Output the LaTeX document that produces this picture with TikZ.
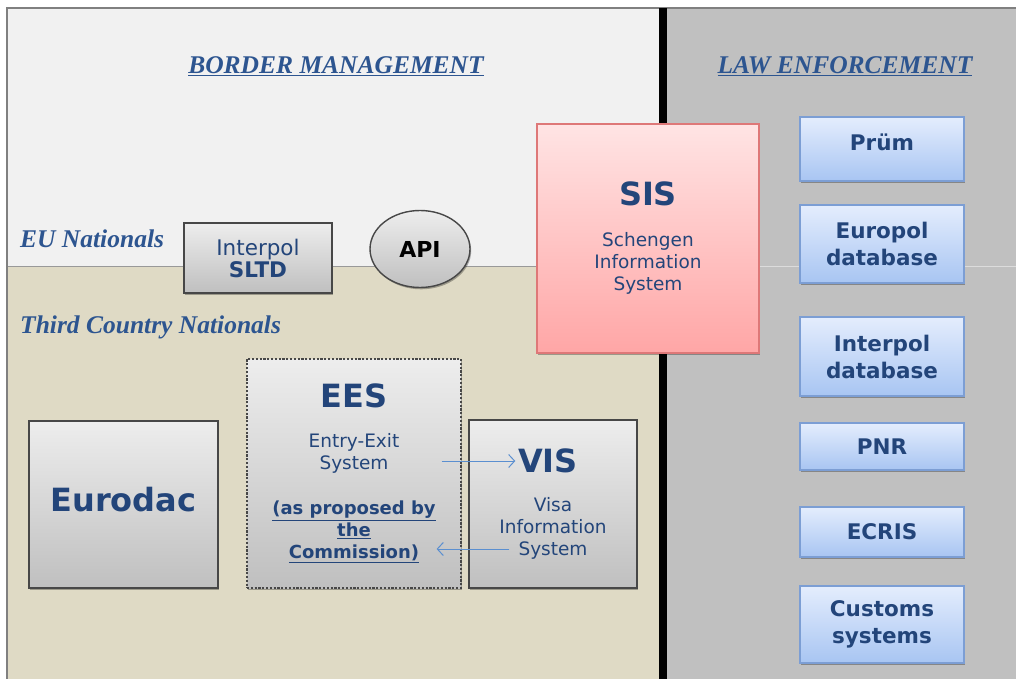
\documentclass[tikz,border=0pt]{standalone}
\usepackage{fontspec}
\usetikzlibrary{shapes.geometric,shadows,arrows.meta,calc}
\newfontfamily\boxfont{DejaVu Sans}
\newfontfamily\headfont{Liberation Serif}
\definecolor{txtblue}{HTML}{23457A}
\definecolor{headblue}{HTML}{2D5590}
\definecolor{arrblue}{HTML}{5B8FD0}
\definecolor{bmgray}{HTML}{F1F1F1}
\definecolor{tcntan}{HTML}{DFDAC5}
\definecolor{legray}{HTML}{C0C0C0}
\definecolor{blueedge}{HTML}{7C9ED4}
\definecolor{bluetop}{HTML}{E4EDFD}
\definecolor{bluebot}{HTML}{A8C5F2}
\definecolor{pinkedge}{HTML}{DE7878}
\definecolor{pinktop}{HTML}{FFE4E4}
\definecolor{pinkbot}{HTML}{FFA6A6}
\newcommand\titlesz{\fontsize{32}{36}\selectfont\bfseries}
\newcommand\smallsz{\fontsize{18.5}{22}\selectfont}
\newcommand\notesz{\fontsize{18}{22}\selectfont\bfseries}
\tikzset{
  shade/.style={drop shadow={shadow xshift=1.2pt,shadow yshift=-1.8pt,opacity=0.3,fill=black}},
  graybox/.style={shade,rectangle,draw=black!72,line width=1.4pt,top color=black!7,bottom color=black!25,
    inner sep=0pt,align=center,text=txtblue,font=\boxfont\smallsz},
  bluebox/.style={shade,rectangle,draw=blueedge,line width=1.2pt,
    top color=bluetop,bottom color=bluebot,
    inner sep=0pt,align=center,text=txtblue,font=\boxfont\fontsize{21.5}{27}\selectfont\bfseries,
    minimum width=164pt},
  pinkbox/.style={shade,rectangle,draw=pinkedge,line width=1.2pt,
    top color=pinktop,bottom color=pinkbot,
    inner sep=0pt,align=center,text=txtblue,font=\boxfont\smallsz},
  heading/.style={text=headblue,font=\headfont\fontsize{25.5}{28}\selectfont\bfseries\itshape,inner sep=0pt},
  flow/.style={draw=arrblue,line width=1pt,-{Straight Barb[length=6pt,width=13pt,line width=1pt]}}
}
\begin{document}
\begin{tikzpicture}[x=1pt,y=-1pt]
\useasboundingbox (0,0) rectangle (1016,679);
\fill[white] (0,0) rectangle (1016,679);
% regions
\fill[bmgray] (7,8) rectangle (660,266);
\fill[tcntan] (7,266) rectangle (660,679);
\fill[legray] (664,8) rectangle (1016,679);
\draw[black!40,line width=1pt] (7,266) -- (660,266);
\draw[white!45!legray,line width=0.8pt] (668,266) -- (1016,266);
\draw[black!50,line width=1.5pt] (7,679) -- (7,8) -- (1016,8);
\fill[black] (659,8) rectangle (667,679);

% headings
\node[heading] (bmhead) at (336,66) {\underline{BORDER MANAGEMENT}};
\node[heading] (lehead) at (845,66) {\underline{LAW ENFORCEMENT}};
\node[heading,anchor=west] (eulab) at (20,239) {EU Nationals};
\node[heading,anchor=west] (tcnlab) at (20,327) {Third Country Nationals};

% border management systems
\node[graybox,minimum width=148pt,minimum height=70pt,font=\boxfont\fontsize{21.5}{24}\selectfont]
  (sltd) at (258,258) {Interpol\\[-2pt]{\bfseries SLTD}};
\node[shade,ellipse,draw=black!72,line width=1.4pt,top color=black!7,bottom color=black!25,
  minimum width=100pt,minimum height=77pt,inner sep=0pt,font=\boxfont\fontsize{22}{24}\selectfont\bfseries]
  (api) at (420,249) {API};
\node[pinkbox,minimum width=222pt,minimum height=229pt] (sis) at (648,238.5)
  {{\titlesz SIS}\\[19pt]Schengen\\Information\\System};
\node[graybox,minimum width=189pt,minimum height=167pt,text depth=11pt] (eurodac) at (123.5,504.5)
  {\titlesz Eurodac};
\node[graybox,dash pattern=on 2.2pt off 1.6pt,line width=1.2pt,minimum width=214pt,minimum height=229pt]
  (ees) at (354,473.5)
  {{\titlesz EES}\\[18pt]Entry-Exit\\System\\[23pt]
   {\notesz\underline{(as proposed by}}\\{\notesz\underline{the}}\\{\notesz\underline{Commission)}}};
\node[graybox,minimum width=168pt,minimum height=168pt] (vis) at (553,504)
  {\hspace*{-10pt}{\titlesz VIS}\\[17pt]Visa\\Information\\System};

% exchanges between EES and VIS
\coordinate (eesout) at ($(ees.east)+(-20,-12.5)$);
\coordinate (visin) at ($(vis.west)+(47,-43)$);
\coordinate (visout) at ($(vis.west)+(41,45)$);
\coordinate (eesin) at ($(ees.east)+(-25,75.5)$);
\draw[flow] (eesout) -- (visin);
\draw[flow] (visout) -- (eesin);

% law enforcement systems
\node[bluebox,minimum height=64pt,text depth=14pt] (prum) at (882,149) {Prüm};
\node[bluebox,minimum height=78pt] (europol) at (882,244) {Europol\\database};
\node[bluebox,minimum height=79pt] (interpoldb) at (882,356.5) {Interpol\\database};
\node[bluebox,minimum height=47pt] (pnr) at (882,446.5) {PNR};
\node[bluebox,minimum height=50pt] (ecris) at (882,532) {ECRIS};
\node[bluebox,minimum height=77pt] (customs) at (882,624.5) {Customs\\systems};
\end{tikzpicture}
\end{document}
